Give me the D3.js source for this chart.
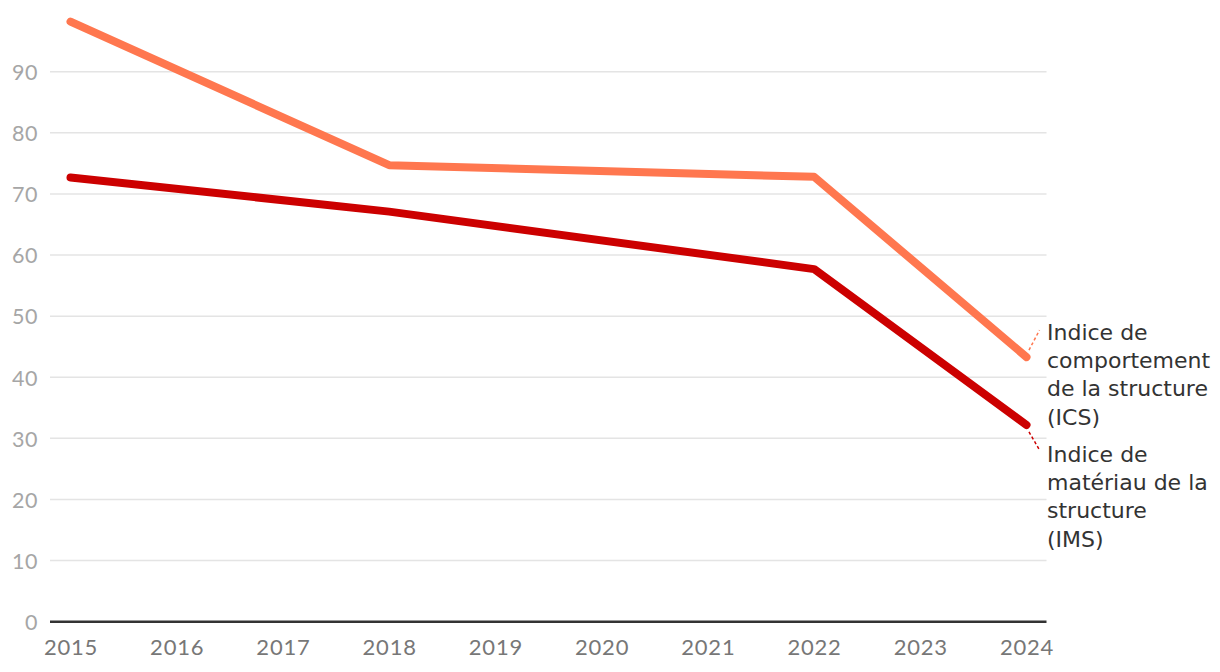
<!DOCTYPE html>
<html><head><meta charset="utf-8">
<script src="https://cdn.jsdelivr.net/npm/d3@7"></script>
<style>
html,body{margin:0;padding:0;background:#fff;}
svg{display:block;}
</style>
</head><body>
<svg id="chart" width="1220" height="672"></svg>
<script>
const years = [2015, 2016, 2017, 2018, 2019, 2020, 2021, 2022, 2023, 2024];
const icsYears = [2015, 2018, 2022, 2024];
const icsValues = [98.2, 74.7, 72.8, 43.3];
const imsYears = [2015, 2018, 2022, 2024];
const imsValues = [72.7, 67.1, 57.7, 32.2];
const yTicks = [0, 10, 20, 30, 40, 50, 60, 70, 80, 90];
const icsLabel = ["Indice de", "comportement", "de la structure", "(ICS)"];
const imsLabel = ["Indice de", "matériau de la", "structure", "(IMS)"];

const svg = d3.select("#chart");
const x = d3.scaleLinear().domain([2015, 2024]).range([70.5, 1026.5]);
const y = d3.scaleLinear().domain([0, 90]).range([621.7, 71.7]);
const plotLeft = 50, plotRight = 1046.5;

// gridlines
svg.append("g").selectAll("line").data(yTicks.filter(d => d > 0)).join("line")
  .attr("x1", plotLeft).attr("x2", plotRight)
  .attr("y1", d => y(d)).attr("y2", d => y(d))
  .attr("stroke", "#e4e4e4").attr("stroke-width", 1.5);

// y axis labels
const yAxis = d3.axisLeft(y).tickValues(yTicks).tickSize(0).tickPadding(0);
const gy = svg.append("g").attr("transform", "translate(38,0)").call(yAxis);
gy.select(".domain").remove();
gy.selectAll("text").attr("fill", "#a6a6a6").attr("font-family", "Lato, sans-serif")
  .attr("font-size", 21.5).attr("dy", "0.36em").attr("letter-spacing", "0.5px");

// zero line
svg.append("line").attr("x1", plotLeft).attr("x2", plotRight)
  .attr("y1", y(0)).attr("y2", y(0)).attr("stroke", "#333").attr("stroke-width", 2.5);

// x axis labels
const xAxis = d3.axisBottom(x).tickValues(years).tickFormat(d3.format("d")).tickSize(0).tickPadding(0);
const gx = svg.append("g").attr("transform", "translate(0,655)").call(xAxis);
gx.select(".domain").remove();
gx.selectAll("text").attr("fill", "#777").attr("font-family", "Lato, sans-serif")
  .attr("font-size", 22).attr("dy", 0).attr("letter-spacing", "0.8px");

const line = d3.line().x(d => x(d[0])).y(d => y(d[1]));

svg.append("path").datum(icsYears.map((yr, i) => [yr, icsValues[i]]))
  .attr("d", line).attr("fill", "none").attr("stroke", "#ff774f")
  .attr("stroke-width", 8).attr("stroke-linecap", "round").attr("stroke-linejoin", "round");

svg.append("path").datum(imsYears.map((yr, i) => [yr, imsValues[i]]))
  .attr("d", line).attr("fill", "none").attr("stroke", "#cc0000")
  .attr("stroke-width", 8).attr("stroke-linecap", "round").attr("stroke-linejoin", "round");

// connector lines
const icsEnd = [x(2024), y(icsValues[3])];
const imsEnd = [x(2024), y(imsValues[3])];
svg.append("line").attr("x1", icsEnd[0] + 2.5).attr("y1", icsEnd[1] - 7)
  .attr("x2", icsEnd[0] + 13).attr("y2", icsEnd[1] - 27)
  .attr("stroke", "#ff774f").attr("stroke-width", 1.5).attr("stroke-dasharray", "3,2.5");
svg.append("line").attr("x1", imsEnd[0] + 2.5).attr("y1", imsEnd[1] + 7)
  .attr("x2", imsEnd[0] + 13).attr("y2", imsEnd[1] + 25)
  .attr("stroke", "#cc0000").attr("stroke-width", 1.5).attr("stroke-dasharray", "3,2.5");

function label(lines, baseY) {
  const t = svg.append("text").attr("x", 1047).attr("y", baseY)
    .attr("font-family", "'DejaVu Sans', sans-serif").attr("font-size", 22).attr("fill", "#333");
  t.selectAll("tspan").data(lines).join("tspan")
    .attr("x", 1047).attr("y", (d, i) => baseY + i * 28.2).text(d => d);
}
label(icsLabel, 340);
label(imsLabel, 462);
</script>
</body></html>
